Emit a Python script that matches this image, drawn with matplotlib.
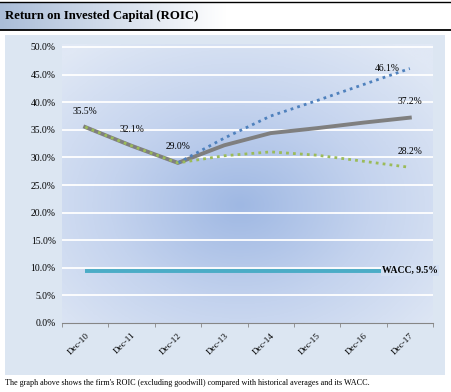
"""
    ROIC vs historical averages and WACC
    draw chart
"""
import numpy as np
import matplotlib
matplotlib.use('Agg')
import matplotlib.pyplot as plt
from matplotlib.colors import LinearSegmentedColormap

plt.rcParams['font.family'] = ['Liberation Serif', 'DejaVu Serif']

years = ['Dec-10', 'Dec-11', 'Dec-12', 'Dec-13', 'Dec-14', 'Dec-15', 'Dec-16', 'Dec-17']
roic = [0.355, 0.321, 0.290, 0.322, 0.344, 0.353, 0.363, 0.372]
avg_high = [None, None, 0.290, 0.335, 0.375, 0.403, 0.432, 0.461]
avg_low = [0.355, 0.321, 0.290, 0.303, 0.310, 0.304, 0.293, 0.282]
wacc = [0.095] * 8
y_ticks = [0.0, 0.05, 0.10, 0.15, 0.20, 0.25, 0.30, 0.35, 0.40, 0.45, 0.50]

W, H = 451, 392


def draw_chart():
    fig = plt.figure(figsize=(W / 100, H / 100), dpi=100)
    fig.patch.set_facecolor('white')

    # title band with gradient
    tax = fig.add_axes([0, 1 - 30 / H, 1, 28 / H])
    grad = np.linspace(0, 1, 256).reshape(1, -1)
    cm_t = LinearSegmentedColormap.from_list('t', ['#aabdd8', '#ffffff', '#ffffff'])
    tax.imshow(grad, cmap=cm_t, aspect='auto', extent=[0, 1, 0, 1])
    tax.set_axis_off()
    tax.text(5 / W, 0.5, 'Return on Invested Capital (ROIC)', transform=tax.transAxes,
             fontsize=9.2, fontweight='bold', va='center', ha='left')
    fig.add_artist(plt.Line2D([0, 1], [1 - 2 / H, 1 - 2 / H], color='black', lw=1.0))
    fig.add_artist(plt.Line2D([0, 1], [1 - 30 / H, 1 - 30 / H], color='black', lw=1.3))

    # outer panel
    pax = fig.add_axes([5 / W, 1 - 375 / H, 440 / W, 340 / H])
    pax.set_facecolor('#dce6f2')
    pax.set_xticks([])
    pax.set_yticks([])
    for s in pax.spines.values():
        s.set_visible(False)

    # plot area
    left, right, top, bottom = 62, 433, 44, 323
    ax = fig.add_axes([left / W, 1 - bottom / H, (right - left) / W, (bottom - top) / H])
    ax.patch.set_visible(False)
    ymax = (bottom - top) / 5.52 / 100

    # radial gradient
    nx, ny = 300, 240
    gx = np.linspace(left, right, nx)
    gy = np.linspace(top, bottom, ny)
    X, Y = np.meshgrid(gx, gy)
    d = np.sqrt(((X - 240) / 260) ** 2 + ((Y - 205) / 200) ** 2)
    d = np.clip(d, 0, 1)
    cm_r = LinearSegmentedColormap.from_list('r', ['#9fb8e3', '#c4d3ee', '#e0e8f5'])
    ax.imshow(d, cmap=cm_r, aspect='auto', extent=[-0.5, 7.5, 0, ymax],
              origin='upper', zorder=0, vmin=0, vmax=1)

    x = np.arange(len(years))
    for yv in y_ticks[1:]:
        ax.axhline(yv, color='white', lw=1.3, zorder=1)

    ax.plot(x, wacc, color='#4bacc6', lw=2.8, solid_capstyle='butt', zorder=3)
    ax.plot(x, roic, color='#7f7f7f', lw=2.8, solid_joinstyle='miter', zorder=3)
    hx = [i for i, v in enumerate(avg_high) if v is not None]
    hy = [v for v in avg_high if v is not None]
    ax.plot(hx, hy, color='#4f81bd', lw=2.0, linestyle=(0, (1, 1.5)), zorder=4)
    ax.plot(x, avg_low, color='#9bbb59', lw=2.0, linestyle=(0, (1, 1.5)), zorder=4)

    fs = 6.9
    lab = dict(fontsize=fs, ha='center', va='center', textcoords='offset points', zorder=6)
    for i in [0, 1, 2]:
        ax.annotate('%.1f%%' % (roic[i] * 100), (x[i], roic[i]), xytext=(0, 11.5), **lab)
    ax.annotate('%.1f%%' % (roic[7] * 100), (x[7], roic[7]), xytext=(0, 11.5), **lab)
    ax.annotate('%.1f%%' % (avg_low[7] * 100), (x[7], avg_low[7]), xytext=(0, 11.5), **lab)
    ax.annotate('%.1f%%' % (avg_high[7] * 100), (x[7], avg_high[7]), xytext=(-16, 0), **lab)
    ax.annotate('WACC, %.1f%%' % (wacc[7] * 100), (x[7], wacc[7]), xytext=(0, 0),
                fontsize=fs, fontweight='bold', ha='center', va='center',
                textcoords='offset points', zorder=6,
                bbox=dict(boxstyle='square,pad=0.1', fc='#d3dff2', ec='none'))

    ax.set_xlim(-0.5, 7.5)
    ax.set_ylim(0, ymax)
    ax.set_yticks(y_ticks)
    ax.set_yticklabels(['%.1f%%' % (v * 100) for v in y_ticks], fontsize=fs)
    ax.tick_params(axis='y', length=0, pad=4.5)
    ax.set_xticks(x)
    ax.set_xticklabels(years, fontsize=6.6, rotation=45, ha='right', rotation_mode='anchor')
    ax.tick_params(axis='x', which='major', length=0, pad=6)
    ax.set_xticks(np.arange(-0.5, 8, 1), minor=True)
    ax.tick_params(axis='x', which='minor', length=3, color='#868686', direction='out')
    for s in ['top', 'right', 'left']:
        ax.spines[s].set_visible(False)
    ax.spines['bottom'].set_color('#868686')
    ax.spines['bottom'].set_zorder(5)

    fig.text(5 / W, 1 - 383 / H,
             "The graph above shows the firm's ROIC (excluding goodwill) compared with historical averages and its WACC.",
             fontsize=5.9, ha='left', va='center')

    fig.savefig('out.png', dpi=100)


def main():
    draw_chart()


if __name__ == '__main__':
    main()
